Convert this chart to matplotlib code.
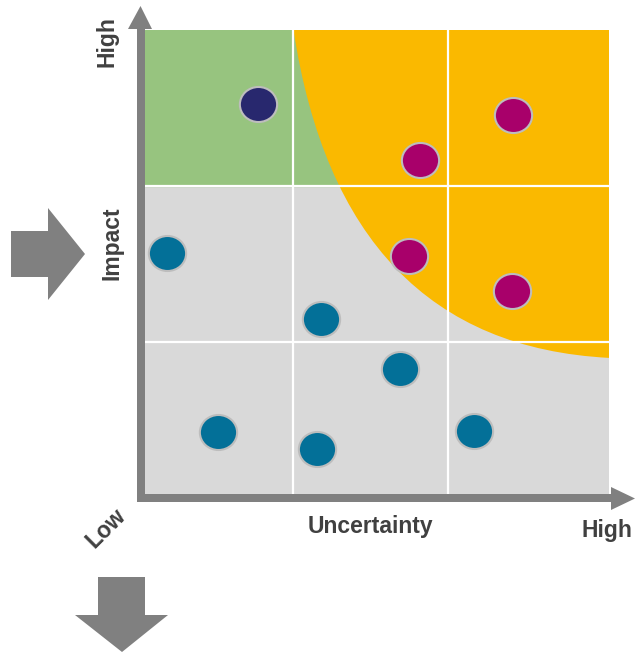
import matplotlib
matplotlib.use("Agg")
import matplotlib.pyplot as plt
from matplotlib.patches import Rectangle, PathPatch, Polygon
from matplotlib.path import Path
from matplotlib.markers import MarkerStyle
from matplotlib.transforms import Affine2D

# Risk points (uncertainty, impact) on a 0-3 scale
navy_x = [0.73]
navy_y = [2.52]
magenta_x = [2.38, 1.78, 1.71, 2.37]
magenta_y = [2.45, 2.16, 1.54, 1.31]
teal_x = [0.14, 1.14, 1.65, 0.47, 1.11, 2.13]
teal_y = [1.56, 1.13, 0.81, 0.40, 0.29, 0.41]

# Grid divisions
grid_x = [0.96, 1.96]
grid_y = [0.98, 1.99]

# Orange zone boundary: quadratic bezier start / control / end
zone_start = (0.96, 3.0)
zone_ctrl = (1.27, 0.97)
zone_end = (3.0, 0.88)

W, H = 641, 653
fig = plt.figure(figsize=(W / 100, H / 100), dpi=100)
ax = fig.add_axes([145 / W, 1 - 494 / H, (609 - 145) / W, (494 - 30) / H])
ax.set_xlim(0, 3)
ax.set_ylim(0, 3)
ax.axis("off")

# background zones
ax.add_patch(Rectangle((0, 0), 3, 3, color="#d9d9d9", zorder=0))
ax.add_patch(Rectangle((0, grid_y[1]), 3, 3 - grid_y[1], color="#97c47f", zorder=1))
zone = Path([zone_start, zone_ctrl, zone_end, (3, 3), zone_start],
            [Path.MOVETO, Path.CURVE3, Path.CURVE3, Path.LINETO, Path.CLOSEPOLY])
ax.add_patch(PathPatch(zone, facecolor="#fab900", edgecolor="none", zorder=2))

for gx in grid_x:
    ax.axvline(gx, color="white", lw=1.6, zorder=3)
for gy in grid_y:
    ax.axhline(gy, color="white", lw=1.6, zorder=3)

# slightly wide ellipse marker
ell = MarkerStyle(Path.unit_circle().transformed(Affine2D().scale(1.0, 0.94)))
kw = dict(marker=ell, s=720, edgecolors="#bdbdbd", linewidths=1.5, zorder=5)
ax.scatter(navy_x, navy_y, c="#28286e", **kw)
ax.scatter(magenta_x, magenta_y, c="#a8006a", **kw)
ax.scatter(teal_x, teal_y, c="#037098", **kw)

# figure decorations in pixel coordinates (origin top-left)
px = Affine2D().scale(1 / 100, -1 / 100).translate(0, H / 100) + fig.dpi_scale_trans
grey = "#808080"

def shape(pts):
    fig.add_artist(Polygon(pts, closed=True, facecolor=grey, edgecolor="none",
                           transform=px, zorder=6))

# axes arrows
shape([(137, 502), (145, 502), (145, 29), (152, 29), (140.5, 6), (128, 29), (137, 29)])
shape([(137, 494), (611, 494), (611, 487), (635, 498.5), (611, 510), (611, 502), (137, 502)])
# block arrows
shape([(11, 231), (48, 231), (48, 208), (85, 254), (48, 300), (48, 277), (11, 277)])
shape([(98, 577), (145, 577), (145, 615), (168, 615), (122, 652), (75, 615), (98, 615)])

tkw = dict(transform=px, fontsize=16.5, fontweight="bold", color="#404040",
           family="Liberation Sans", ha="center", va="center")
fig.text(107, 42, "High", rotation=90, **tkw)
fig.text(112, 243, "Impact", rotation=90, **tkw)
fig.text(370, 526, "Uncertainty", **tkw)
fig.text(607, 530, "High", **tkw)
fig.text(106, 528, "Low", rotation=45, **tkw)

fig.savefig("out.png", dpi=100)
plt.close(fig)
